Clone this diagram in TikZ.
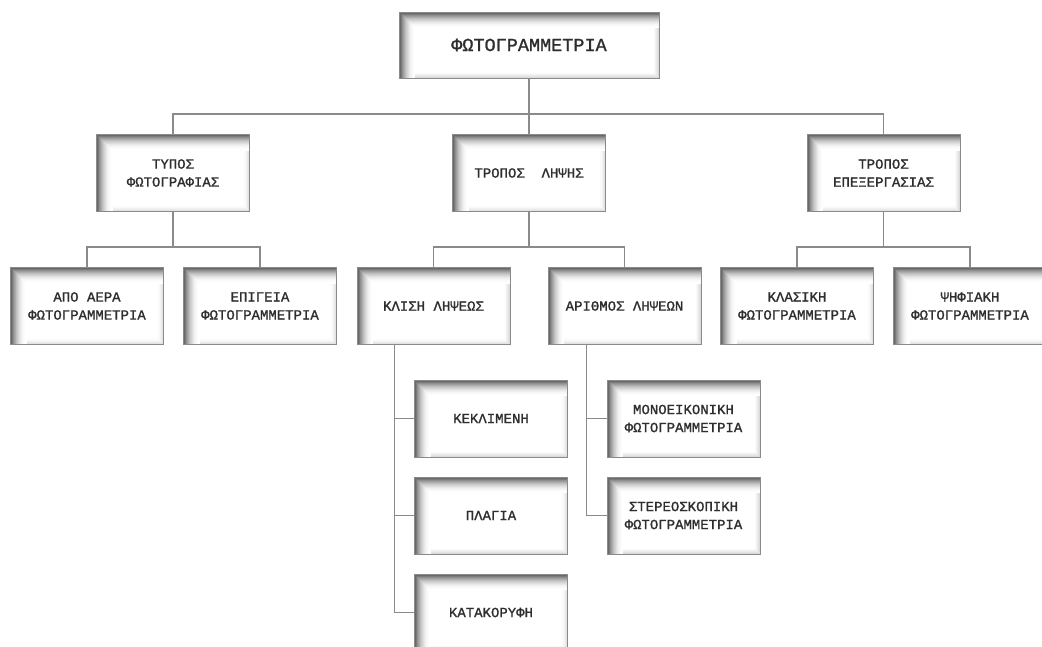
\documentclass[tikz,border=0pt]{standalone}
\usepackage{fontspec}
\newfontfamily\monofont[FakeBold=1.2]{Liberation Mono}
\usetikzlibrary{calc}
\definecolor{linegray}{HTML}{8A8A8A}
\definecolor{textgray}{HTML}{2E2E2E}
\tikzset{
  % white box with a soft inner shadow along the top and left edges
  box/.style={
    draw=linegray, line width=1pt, fill=white,
    minimum width=153pt, minimum height=77pt, inner sep=0pt,
    align=center, text=textgray,
    font=\monofont\fontsize{14}{18}\selectfont,
    path picture={
      \foreach \i in {0,...,4}{
        \pgfmathsetmacro\lowval{int(14-3*\i)}
        \draw[line width=1.05pt, color=black!\lowval]
          ([yshift=\i pt+0.5pt]path picture bounding box.south west) --
          ([xshift=-\i pt-0.5pt,yshift=\i pt+0.5pt]path picture bounding box.south east) --
          ([xshift=-\i pt-0.5pt]path picture bounding box.north east);
      }
      \foreach \i in {0,...,15}{
        \pgfmathsetmacro\shadeval{int(68*(1-\i/16)^2)}
        \draw[line width=1.05pt, color=black!\shadeval]
          ([xshift=\i pt+0.5pt]path picture bounding box.south west) --
          ([xshift=\i pt+0.5pt,yshift=-\i pt-0.5pt]path picture bounding box.north west) --
          ([yshift=-\i pt-0.5pt]path picture bounding box.north east);
      }
    }},
  rootbox/.style={box, minimum width=260pt, minimum height=66pt,
    font=\monofont\fontsize{18.5}{22}\selectfont},
  conn/.style={draw=linegray, line width=1.4pt},
}
\begin{document}
\begin{tikzpicture}[x=1pt,y=-1pt]
  \useasboundingbox (0,0) rectangle (1042,646);
  \fill[white] (0,0) rectangle (1042,646);
  \clip (0,0) rectangle (1042,646);

  % root
  \node[rootbox] (root) at (529,45) {ΦΩΤΟΓΡΑΜΜΕΤΡΙΑ};

  % second level
  \node[box] (typ) at (173,173) {ΤΥΠΟΣ\\ΦΩΤΟΓΡΑΦΙΑΣ};
  \node[box] (lip) at (529,173) {ΤΡΟΠΟΣ\ \ ΛΗΨΗΣ};
  \node[box] (epx) at (883.5,173) {ΤΡΟΠΟΣ\\ΕΠΕΞΕΡΓΑΣΙΑΣ};

  % third level
  \node[box] (apo) at (87,306) {ΑΠΟ ΑΕΡΑ\\ΦΩΤΟΓΡΑΜΜΕΤΡΙΑ};
  \node[box] (epi) at (260,306) {ΕΠΙΓΕΙΑ\\ΦΩΤΟΓΡΑΜΜΕΤΡΙΑ};
  \node[box] (kli) at (433.5,306) {ΚΛΙΣΗ ΛΗΨΕΩΣ};
  \node[box] (ari) at (624.5,306) {ΑΡΙΘΜΟΣ ΛΗΨΕΩΝ};
  \node[box] (kla) at (797,306) {ΚΛΑΣΙΚΗ\\ΦΩΤΟΓΡΑΜΜΕΤΡΙΑ};
  \node[box] (psi) at (970,306) {ΨΗΦΙΑΚΗ\\ΦΩΤΟΓΡΑΜΜΕΤΡΙΑ};

  % fourth level
  \node[box] (kek) at (491,418.5) {ΚΕΚΛΙΜΕΝΗ};
  \node[box] (pla) at (491,515.5) {ΠΛΑΓΙΑ};
  \node[box] (kat) at (491,612.5) {ΚΑΤΑΚΟΡΥΦΗ};
  \node[box] (mon) at (683.5,418.5) {ΜΟΝΟΕΙΚΟΝΙΚΗ\\ΦΩΤΟΓΡΑΜΜΕΤΡΙΑ};
  \node[box] (ste) at (683.5,515.5) {ΣΤΕΡΕΟΣΚΟΠΙΚΗ\\ΦΩΤΟΓΡΑΜΜΕΤΡΙΑ};

  % root to second level
  \draw[conn] (root.south) -- ([yshift=20pt]root.south |- lip.north);
  \draw[conn] (typ.north) -- ++(0,-20) -| (epx.north);
  \draw[conn] (lip.north) -- ++(0,-20);

  % second to third level
  \draw[conn] (typ.south) -- ([yshift=20pt]typ.south |- apo.north);
  \draw[conn] (apo.north) -- ++(0,-20) -| (epi.north);
  \draw[conn] (lip.south) -- ([yshift=20pt]lip.south |- kli.north);
  \draw[conn] (kli.north) -- ++(0,-20) -| (ari.north);
  \draw[conn] (epx.south) -- ([yshift=20pt]epx.south |- kla.north);
  \draw[conn] (kla.north) -- ++(0,-20) -| (psi.north);

  % side branches
  \draw[conn] ([xshift=38pt]kli.south west) |- (kek.west);
  \draw[conn] ([xshift=38pt]kli.south west) |- (pla.west);
  \draw[conn] ([xshift=38pt]kli.south west) |- (kat.west);
  \draw[conn] ([xshift=39pt]ari.south west) |- (mon.west);
  \draw[conn] ([xshift=39pt]ari.south west) |- (ste.west);
\end{tikzpicture}
\end{document}
